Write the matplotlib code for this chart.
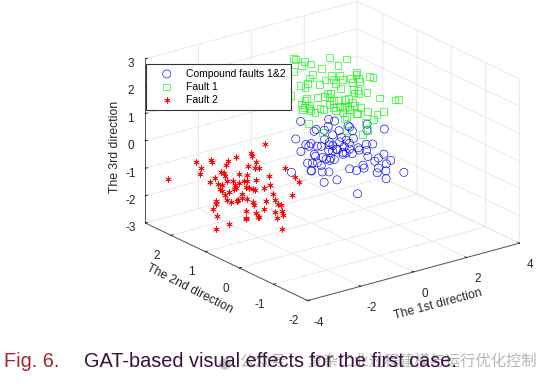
import matplotlib
matplotlib.use("Agg")
import matplotlib.pyplot as plt
from matplotlib.patches import Circle

# depth along the 2nd direction is a guess
rx = [-3.8,-3.43,-3.45,-3.76,-2.74,-3.42,-2.38,-2.1,-2.27,-2.03,-1.27,-1.24,-1.99,-1.91,-1.08,-1.05,-0.54,0.41,-0.15,0.05,-0.5,-0.98,-1.28,-0.83,-1.24,-2.04,-2.54,-2.51,-2.58,-2.81,-2.6,-3.51,-2.73,-2.35,-2.8,-2.92,-2.0,-2.03,-2.34,-2.35,-1.5,-1.76,-2.38,-2.06,-2.92,-2.39,-2.48,-3.01,-3.43,-2.57,-2.2,-2.37,-2.41,-1.5,-1.5,-1.7,-1.43,-2.13,-1.69,-0.98,-1.41,-1.71,-0.8,-0.86,-1.05,-1.18,-0.35,-0.42,-0.9,-0.25,-0.76,-0.3,-0.0,-2.53,-3.34,-1.21,-1.27,-1.94,-2.73,-2.45,-1.89,-2.34]
ry = [2.25,1.7,1.55,1.35,1.8,1.25,1.6,1.85,1.45,1.2,1.75,1.65,1.3,1.15,1.7,1.55,1.35,1.8,1.25,1.6,1.85,1.45,1.2,1.75,1.65,1.3,1.15,1.7,1.55,1.35,1.8,1.25,1.6,1.85,1.45,1.2,1.75,1.65,1.3,1.15,1.7,1.55,1.35,1.8,1.25,1.6,1.85,1.45,1.2,1.75,1.65,1.3,1.15,1.7,1.55,1.35,1.8,1.25,1.6,1.85,1.45,1.2,1.75,1.65,1.3,1.15,1.7,1.55,1.35,1.8,1.25,1.6,1.85,1.45,1.2,1.75,1.65,1.3,1.15,1.7,1.55,1.35]
rz = [-1.16,-0.29,-0.43,-0.44,-0.46,-0.01,-0.49,-0.85,-0.25,-0.03,-0.67,-0.84,-0.59,-0.58,-1.12,-0.17,-1.05,-1.9,-1.62,-2.35,-1.66,-1.62,-1.4,-1.97,-1.49,-0.89,-0.65,-0.91,-0.83,-0.77,-1.15,-0.75,-1.21,-1.64,-1.38,-0.82,-1.4,-1.48,-1.11,-0.95,-1.51,-1.55,-1.31,-1.81,-1.35,-1.9,-2.07,-1.79,-1.7,-2.53,-2.04,-1.71,-1.54,-2.15,-2.17,-2.11,-2.68,-2.4,-2.79,-2.9,-2.69,-2.47,-2.74,-2.37,-1.83,-1.94,-2.65,-2.56,-2.58,-3.25,-2.53,-3.0,-3.72,-2.64,-2.46,-1.89,-1.87,-1.38,-1.15,-1.39,-1.76,-1.81]

gx = [-1.12,-0.32,-0.2,-0.56,0.37,0.36,1.47,1.47,-0.71,0.0,0.39,0.13,-0.4,-0.85,0.03,0.37,0.33,1.24,0.74,1.3,1.37,1.04,1.11,1.88,1.9,1.44,1.34,2.08,2.28,2.14,1.15,1.27,1.9,2.07,1.72,1.72,2.9,3.36,3.05,-1.22,0.07,-0.17,0.05,0.9,0.3,0.86,1.15,0.78,0.65,1.59,1.62,1.29,0.23,1.11,1.14,1.06,1.78,1.31,1.99,2.57,2.68,2.1,2.67,2.26,1.86,1.5,0.7,-0.04,1.13,1.66,-0.68,-0.13,0.14,-0.14,-0.41,0.47,0.53,0.2,0.48,1.46,1.77,1.57,1.85,-0.4,1.46]
gy = [0.65,1.2,1.05,0.85,1.3,0.75,1.1,1.35,0.95,0.7,1.25,1.15,0.8,0.65,1.2,1.05,0.85,1.3,0.75,1.1,1.35,0.95,0.7,1.25,1.15,0.8,0.65,1.2,1.05,0.85,1.3,0.75,1.1,1.35,0.95,0.7,1.25,1.15,0.8,0.65,1.2,1.05,0.85,1.3,0.75,1.1,1.35,0.95,0.7,1.25,1.15,0.8,0.65,1.2,1.05,0.85,1.3,0.75,1.1,1.35,0.95,0.7,1.25,1.15,0.8,0.65,1.2,1.05,0.85,1.3,0.75,1.1,1.35,0.95,0.7,1.25,1.15,0.8,0.65,1.2,1.05,0.85,1.3,0.75,1.1]
gz = [3.52,2.92,2.92,2.98,2.53,3.09,2.54,2.14,2.75,2.82,2.18,2.17,2.33,2.46,1.82,1.92,2.22,1.72,2.35,1.85,1.51,1.67,2.16,1.5,1.9,2.17,2.13,1.51,1.71,1.85,1.91,1.7,1.29,0.99,1.29,1.5,0.65,0.52,0.82,2.18,1.42,1.48,1.67,1.19,1.79,1.45,1.08,1.29,1.48,0.94,1.02,1.19,1.48,0.79,0.91,1.02,0.61,1.09,0.62,0.2,0.39,0.59,-0.07,-0.01,0.0,0.05,-0.01,0.61,0.67,0.18,1.64,1.19,0.91,1.36,1.4,0.75,0.95,1.21,1.19,0.54,0.49,0.67,0.47,1.44,-0.07]

bx = [-0.85,0.92,0.95,0.45,0.58,-0.21,0.63,1.85,1.39,0.67,1.88,2.31,1.85,2.31,-0.32,-0.32,0.62,1.53,1.27,0.82,1.53,1.26,1.06,0.83,0.19,-0.34,-0.22,0.64,0.19,0.49,1.34,0.93,1.58,2.23,2.02,1.94,2.42,0.86,0.55,0.54,1.46,1.39,1.36,0.83,0.42,1.01,1.66,2.08,2.36,2.86,2.6,2.75,2.39,2.8,2.56,2.63,3.22,3.18,2.09,2.45,1.39,1.33,-0.42,0.06,-0.21,-0.22,0.64,0.06,-0.17,0.81,0.35,0.62,1.43,1.69,-0.22,0.89,0.89,-0.46,1.37,1.08]
by = [0.65,1.2,1.05,0.85,1.3,0.75,1.1,1.35,0.95,0.7,1.25,1.15,0.8,0.65,1.2,1.05,0.85,1.3,0.75,1.1,1.35,0.95,0.7,1.25,1.15,0.8,0.65,1.2,1.05,0.85,1.3,0.75,1.1,1.35,0.95,0.7,1.25,1.15,0.8,0.65,1.2,1.05,0.85,1.3,0.75,1.1,1.35,0.95,0.7,1.25,1.15,0.8,0.65,1.2,1.05,0.85,1.3,0.75,1.1,1.35,0.95,0.7,1.25,1.15,0.8,0.65,1.2,1.05,0.85,1.3,0.75,1.1,1.35,0.95,0.7,1.25,1.15,0.8,0.65,1.2]
bz = [1.14,0.42,0.44,0.49,0.08,0.55,0.16,-0.15,0.17,0.37,-0.28,-0.09,0.02,0.03,0.03,-0.34,0.14,-0.46,-0.1,-0.32,-0.65,-0.28,-0.19,-0.32,-0.24,0.01,0.07,-0.49,-0.58,-0.19,-0.84,-0.31,-0.78,-1.05,-0.63,-0.45,-1.14,-0.67,-0.4,-0.26,-0.93,-0.84,-0.74,-1.0,-0.6,-1.01,-1.14,-1.09,-0.93,-1.53,-1.52,-1.32,-1.26,-1.85,-1.87,-1.7,-2.41,-1.84,-1.5,-1.85,-1.36,-1.26,-1.19,-0.92,-0.64,-0.54,-1.19,-1.14,-0.97,-1.53,-1.08,-1.74,-2.01,-2.35,-0.33,-1.05,-1.04,0.1,-0.49,-0.58]

plt.rcParams["font.family"] = ["Liberation Sans", "DejaVu Sans"]
plt.rcParams["axes.unicode_minus"] = False

fig = plt.figure(figsize=(5.52, 3.84), dpi=100)
ax = fig.add_axes([0.0824, 0.0651, 1.02, 1.055], projection="3d", proj_type="ortho")
ax.view_init(elev=21.1, azim=-127)
ax.set_box_aspect((263, 267.5, 174.6))
ax.patch.set_alpha(0)
ax.scatter(bx, by, bz, s=34, marker="o", facecolors="none", edgecolors="b", linewidths=0.45, depthshade=False, label="Compound faults 1&2")
ax.scatter(gx, gy, gz, s=24, marker="s", facecolors="none", edgecolors="lime", linewidths=0.45, depthshade=False, label="Fault 1")
ax.scatter(rx, ry, rz, s=20, marker=(6, 2, 0), c="r", linewidths=0.4, depthshade=False, label="Fault 2")
ax.set_xlim(-4, 4)
ax.set_ylim(-2, 2.75)
ax.set_zlim(-3, 3)
ax.set_xticks([-4, -2, 0, 2, 4])
ax.set_yticks([-2, -1, 0, 1, 2])
ax.set_zticks([-3, -2, -1, 0, 1, 2, 3])
for a in [ax.xaxis, ax.yaxis, ax.zaxis]:
    a.set_pane_color((1, 1, 1, 0))
    a.pane.set_edgecolor("#e6e6e6")
    a.pane.set_linewidth(0.6)
    a.line.set_color("#555555")
    a.line.set_linewidth(0.7)
    a._axinfo["grid"]["color"] = "#e6e6e6"
    a._axinfo["grid"]["linewidth"] = 0.6
    a._axinfo["tick"]["color"] = "#555555"
    a._axinfo["tick"]["linewidth"] = {True: 0.6, False: 0.6}
    a._axinfo["tick"]["inward_factor"] = 0.0
    a._axinfo["tick"]["outward_factor"] = 0.12
ax.tick_params(axis="x", labelsize=8.5, labelcolor="#262626", pad=2)
ax.tick_params(axis="y", labelsize=8.5, labelcolor="#262626", pad=2)
ax.tick_params(axis="z", labelsize=8.5, labelcolor="#262626", pad=-2)

leg = ax.legend(loc="upper left", bbox_to_anchor=(146 / 552, 1 - 64 / 384), bbox_transform=fig.transFigure, fontsize=7.45, fancybox=False, framealpha=1, edgecolor="#333333", borderaxespad=0, borderpad=0.45, labelspacing=0.3, handlelength=3.1, handletextpad=0.36)
leg.get_frame().set_linewidth(0.8)

fig.text(438 / 552, 1 - 304 / 384, "The 1st direction", fontsize=8.8, color="#262626", rotation=15, ha="center", va="center")
fig.text(190 / 552, 1 - 289 / 384, "The 2nd direction", fontsize=8.8, color="#262626", rotation=-27, ha="center", va="center")
fig.text(115 / 552, 1 - 147 / 384, "The 3rd direction", fontsize=8.8, color="#262626", rotation=90, ha="center", va="center")

fig.add_artist(Circle((2.25, 0.2), 0.05, transform=fig.dpi_scale_trans, color="#c4c4c4", zorder=1))
fig.text(4 / 552, 1 - 367 / 384, "Fig. 6.", fontsize=14.35, color="#a5252f", va="baseline")
fig.text(84 / 552, 1 - 367 / 384, "GAT-based visual effects for the first case.", fontsize=14.35, color="#3a1040", va="baseline", zorder=5)
fig.text(240 / 552, 1 - 366 / 384, "公众号 · 复杂工业过程建模与运行优化控制", fontsize=11, color="#b5b5b5", va="baseline", family=["Noto Sans CJK SC", "DejaVu Sans"], zorder=1)

fig.savefig("out.png", dpi=100)
